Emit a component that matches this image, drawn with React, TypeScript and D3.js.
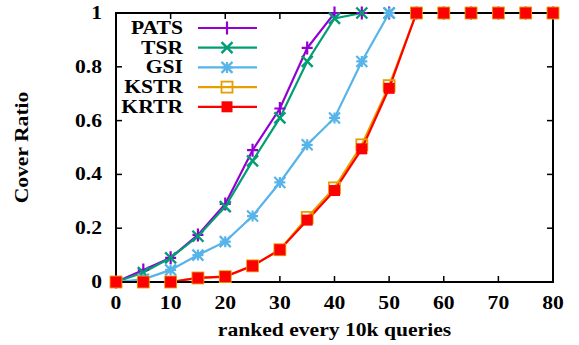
import React from "react";
import * as d3 from "d3";

const xs = [0, 5, 10, 15, 20, 25, 30, 35, 40, 45, 50, 55, 60, 65, 70, 75, 80];
const pats = [0, 0.045, 0.09, 0.175, 0.29, 0.49, 0.645, 0.87, 1, 1, 1, 1, 1, 1, 1, 1, 1];
const tsr = [0, 0.035, 0.09, 0.17, 0.28, 0.45, 0.61, 0.82, 0.98, 1, 1, 1, 1, 1, 1, 1, 1];
const gsi = [0, 0.01, 0.045, 0.1, 0.15, 0.245, 0.37, 0.51, 0.61, 0.82, 1, 1, 1, 1, 1, 1, 1];
const kstr = [0, 0, 0, 0.015, 0.02, 0.06, 0.12, 0.24, 0.35, 0.51, 0.73, 1, 1, 1, 1, 1, 1];
const krtr = [0, 0, 0, 0.015, 0.02, 0.06, 0.12, 0.23, 0.34, 0.495, 0.72, 1, 1, 1, 1, 1, 1];

const seriesNames = ["PATS", "TSR", "GSI", "KSTR", "KRTR"];
const seriesValues = [pats, tsr, gsi, kstr, krtr];
const colors = ["#9400d3", "#009e73", "#56b4e9", "#e69f00", "#ff0000"];
const markers = ["plus", "cross", "star", "openSquare", "filledSquare"];

const xTicks = [0, 10, 20, 30, 40, 50, 60, 70, 80];
const yTicks = [0, 0.2, 0.4, 0.6, 0.8, 1];
const yTickLabels = ["0", "0.2", "0.4", "0.6", "0.8", "1"];

const FONT = "Liberation Serif";
const SX = 1.2;

function Marker({ type, x, y, color }: { type: string; x: number; y: number; color: string }) {
  const s = 5.5;
  if (type === "plus")
    return (
      <path d={`M${x - s},${y}H${x + s}M${x},${y - s - 1}V${y + s + 1}`} stroke={color} strokeWidth={2.2} fill="none" />
    );
  if (type === "cross")
    return (
      <path d={`M${x - s},${y - s}L${x + s},${y + s}M${x - s},${y + s}L${x + s},${y - s}`} stroke={color} strokeWidth={2.4} fill="none" />
    );
  if (type === "star")
    return (
      <path
        d={`M${x - s},${y - s}L${x + s},${y + s}M${x - s},${y + s}L${x + s},${y - s}M${x - s},${y}H${x + s}M${x},${y - s}V${y + s}`}
        stroke={color}
        strokeWidth={2.2}
        fill="none"
      />
    );
  if (type === "openSquare")
    return <rect x={x - 5.5} y={y - 5.5} width={11} height={11} stroke={color} strokeWidth={1.8} fill="none" />;
  return <rect x={x - 5.5} y={y - 5.5} width={11} height={11} fill={color} />;
}

function Txt({ x, y, anchor, size, children, rotate }: any) {
  const t = rotate ? `translate(${x},${y}) rotate(-90) scale(${SX},1)` : `translate(${x},${y}) scale(${SX},1)`;
  return (
    <text transform={t} textAnchor={anchor} fontFamily={FONT} fontWeight="bold" fontSize={size} fill="#000">
      {children}
    </text>
  );
}

export default function App() {
  const x = d3.scaleLinear().domain([0, 80]).range([116, 553]);
  const y = d3.scaleLinear().domain([0, 1]).range([282, 13]);
  const line = d3
    .line<number>()
    .x((_, i) => x(xs[i]))
    .y((d) => y(d));
  const tl = 6;

  return (
    <svg width={579} height={345} style={{ position: "absolute", left: 0, top: 0, background: "#fff" }}>
      {seriesValues.map((vals, si) => (
        <path key={"l" + si} d={line(vals) || ""} stroke={colors[si]} strokeWidth={2.2} fill="none" />
      ))}
      <rect x={x(0)} y={y(1)} width={x(80) - x(0)} height={y(0) - y(1)} fill="none" stroke="#000" strokeWidth={2} />
      {xTicks.map((t) => (
        <g key={"xt" + t}>
          <line x1={x(t)} x2={x(t)} y1={y(0)} y2={y(0) - tl} stroke="#000" strokeWidth={1.5} />
          <line x1={x(t)} x2={x(t)} y1={y(1)} y2={y(1) + tl} stroke="#000" strokeWidth={1.5} />
          <Txt x={x(t)} y={309} anchor="middle" size={18}>
            {String(t)}
          </Txt>
        </g>
      ))}
      {yTicks.map((t, i) => (
        <g key={"yt" + t}>
          <line x1={x(0)} x2={x(0) + tl} y1={y(t)} y2={y(t)} stroke="#000" strokeWidth={1.5} />
          <line x1={x(80)} x2={x(80) - tl} y1={y(t)} y2={y(t)} stroke="#000" strokeWidth={1.5} />
          <Txt x={102} y={y(t) + 6} anchor="end" size={18}>
            {yTickLabels[i]}
          </Txt>
        </g>
      ))}
      {seriesValues.map((vals, si) => (
        <g key={"m" + si}>
          {vals.map((v, i) => (
            <Marker key={i} type={markers[si]} x={x(xs[i])} y={y(v)} color={colors[si]} />
          ))}
        </g>
      ))}
      {seriesNames.map((n, i) => {
        const ly = 28 + i * 19.7;
        return (
          <g key={"lg" + n}>
            <Txt x={183} y={ly + 6} anchor="end" size={18}>
              {n}
            </Txt>
            <line x1={198} x2={257} y1={ly} y2={ly} stroke={colors[i]} strokeWidth={2.2} />
            <Marker type={markers[i]} x={227} y={ly} color={colors[i]} />
          </g>
        );
      })}
      <Txt x={334.5} y={336} anchor="middle" size={18}>
        ranked every 10k queries
      </Txt>
      <Txt x={28} y={147.5} anchor="middle" size={18} rotate>
        Cover Ratio
      </Txt>
    </svg>
  );
}
